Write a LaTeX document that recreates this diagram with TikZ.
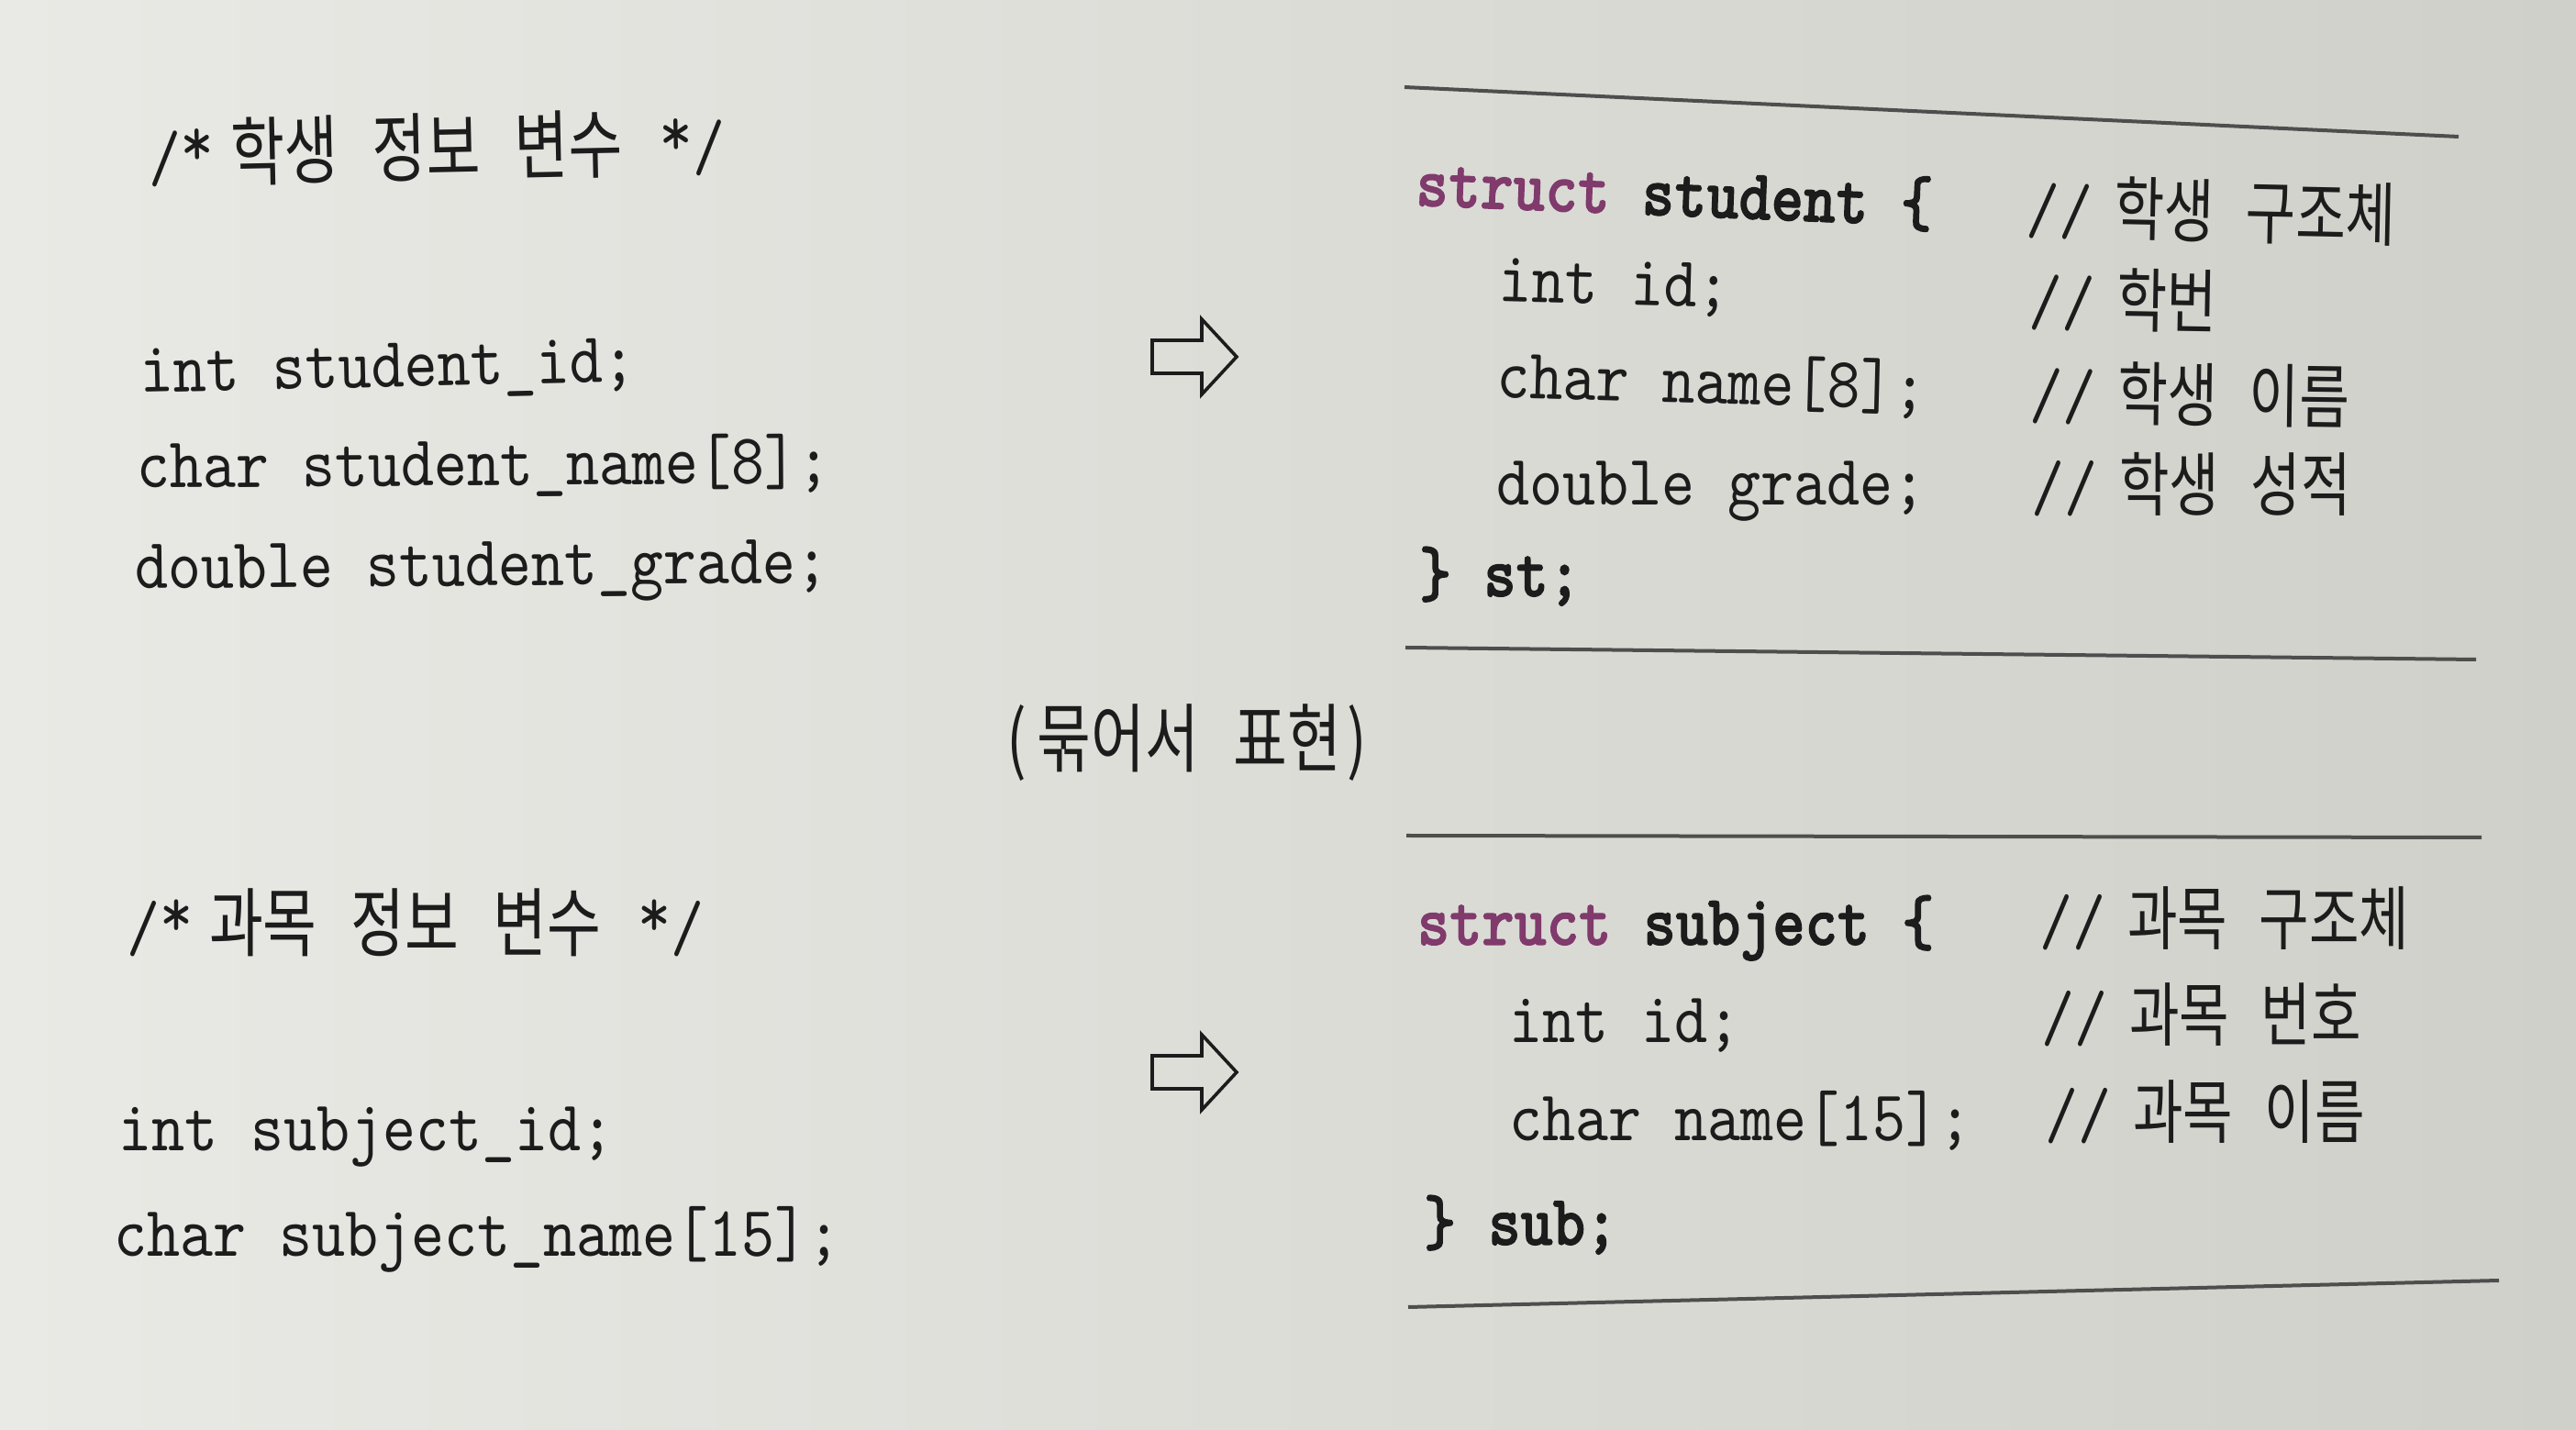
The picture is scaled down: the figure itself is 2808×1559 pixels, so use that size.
\documentclass[tikz,border=0pt]{standalone}
\usepackage{fontspec}
\newfontfamily\mycodefam{lmmono10-regular.otf}[FakeStretch=0.88]
\newfontfamily\myboldfam{lmmonolt10-bold.otf}[FakeStretch=0.86,FakeBold=1.5]
\newfontfamily\mykrfam{Noto Sans CJK KR}[FakeStretch=0.78,WordSpace=2.6]
\newcommand\mycode{\fontsize{19.5}{22}\mycodefam}
\newcommand\mybold{\fontsize{19.5}{22}\myboldfam}
\newcommand\myast{\raisebox{0.2em}{*}}
\definecolor{ink}{HTML}{1C1C1C}
\definecolor{kw}{HTML}{803A6C}
\definecolor{rule}{HTML}{4E4E4E}
\definecolor{bgL}{HTML}{E9E9E5}
\definecolor{bgM}{HTML}{E2E2DD}
\definecolor{bgR}{HTML}{D0D0CA}
\tikzset{
  code/.style={font=\mycode, text=ink, inner sep=0pt, outer sep=0pt, anchor=base west},
  boldcode/.style={font=\mybold, text=ink, inner sep=0pt, outer sep=0pt, anchor=base west},
  krcomment/.style={font=\fontsize{19}{22}\mykrfam, text=ink, inner sep=0pt, outer sep=0pt, anchor=base west},
  krheader/.style={font=\fontsize{20.5}{23}\mykrfam, text=ink, inner sep=0pt, outer sep=0pt, anchor=base west},
  krlabel/.style={font=\fontsize{20.5}{23}\mykrfam, text=ink, inner sep=0pt, outer sep=0pt, anchor=base west},
  pagerule/.style={draw=rule, line width=1pt},
  blockarrow/.style={draw=ink, line width=0.9pt, line join=miter}
}
\newcommand\cmt[1]{{\mycode//}\kern6pt #1}
\newcommand\hdr[1]{{\mycode/\myast}\kern4.5pt #1\kern10pt{\mycode\myast/}}
\begin{document}
\begin{tikzpicture}[x=0.25pt,y=-0.25pt]
\useasboundingbox (0,0) rectangle (2808,1559);
\shade[left color=bgL, middle color=bgM, right color=bgR] (0,0) rectangle (2808,1559);

% left block: student variables
\node[krheader, rotate=1.2] (h1) at (162,198) {\hdr{학생 정보 변수}};
\node[code, rotate=1.3] (l1) at (153,428) {int student\_id;};
\node[code, rotate=0.4] (l2) at (149,532) {char student\_name[8];};
\node[code, rotate=0.5] (l3) at (147,642) {double student\_grade;};

% left block: subject variables
\node[krheader] (h2) at (138,1037) {\hdr{과목 정보 변수}};
\node[code] (l4) at (129,1255) {int subject\_id;};
\node[code] (l5) at (124,1370) {char subject\_name[15];};

% arrows
\coordinate (a1) at (1256,389);
\coordinate (a2) at (1256,1169);
\foreach \a in {a1,a2}{
  \draw[blockarrow] (\a) ++(0,-18) -- ++(54,0) -- ++(0,-23) -- ++(38,41)
     -- ++(-38,41) -- ++(0,-23) -- ++(-54,0) -- cycle;
}

% middle label
\node[krlabel] (mid) at (1097,836) {(\kern3pt묶어서 표현\kern1.5pt)};

% rules
\coordinate (r1a) at (1531,95);  \coordinate (r1b) at (2680,149);
\coordinate (r2a) at (1532,706); \coordinate (r2b) at (2699,719);
\coordinate (r3a) at (1533,911); \coordinate (r3b) at (2705,913);
\coordinate (r4a) at (1535,1425); \coordinate (r4b) at (2724,1396);
\draw[pagerule] (r1a) -- (r1b);
\draw[pagerule] (r2a) -- (r2b);
\draw[pagerule] (r3a) -- (r3b);
\draw[pagerule] (r4a) -- (r4b);

% struct student
\node[boldcode, rotate=-2.3] (s1) at (1543,224) {{\color{kw}struct} student \{};
\node[krcomment, rotate=-1.2] (c1) at (2208,254) {\cmt{학생 구조체}};
\node[code, rotate=-1.5] (s2) at (1633,329) {int id;};
\node[krcomment, rotate=-1] (c2) at (2211,354) {\cmt{학번}};
\node[code, rotate=-1.5] (s3) at (1631,434) {char name[8];};
\node[krcomment, rotate=-0.8] (c3) at (2212,456) {\cmt{학생 이름}};
\node[code] (s4) at (1631,551) {double grade;};
\node[krcomment] (c4) at (2214,557) {\cmt{학생 성적}};
\node[boldcode] (s5) at (1547,650) {\} st;};

% struct subject
\node[boldcode] (t1) at (1545,1030) {{\color{kw}struct} subject \{};
\node[krcomment] (d1) at (2223,1030) {\cmt{과목 구조체}};
\node[code] (t2) at (1645,1137) {int id;};
\node[krcomment] (d2) at (2225,1135) {\cmt{과목 번호}};
\node[code] (t3) at (1645,1244) {char name[15];};
\node[krcomment] (d3) at (2229,1241) {\cmt{과목 이름}};
\node[boldcode] (t4) at (1552,1357) {\} sub;};
\end{tikzpicture}
\end{document}
